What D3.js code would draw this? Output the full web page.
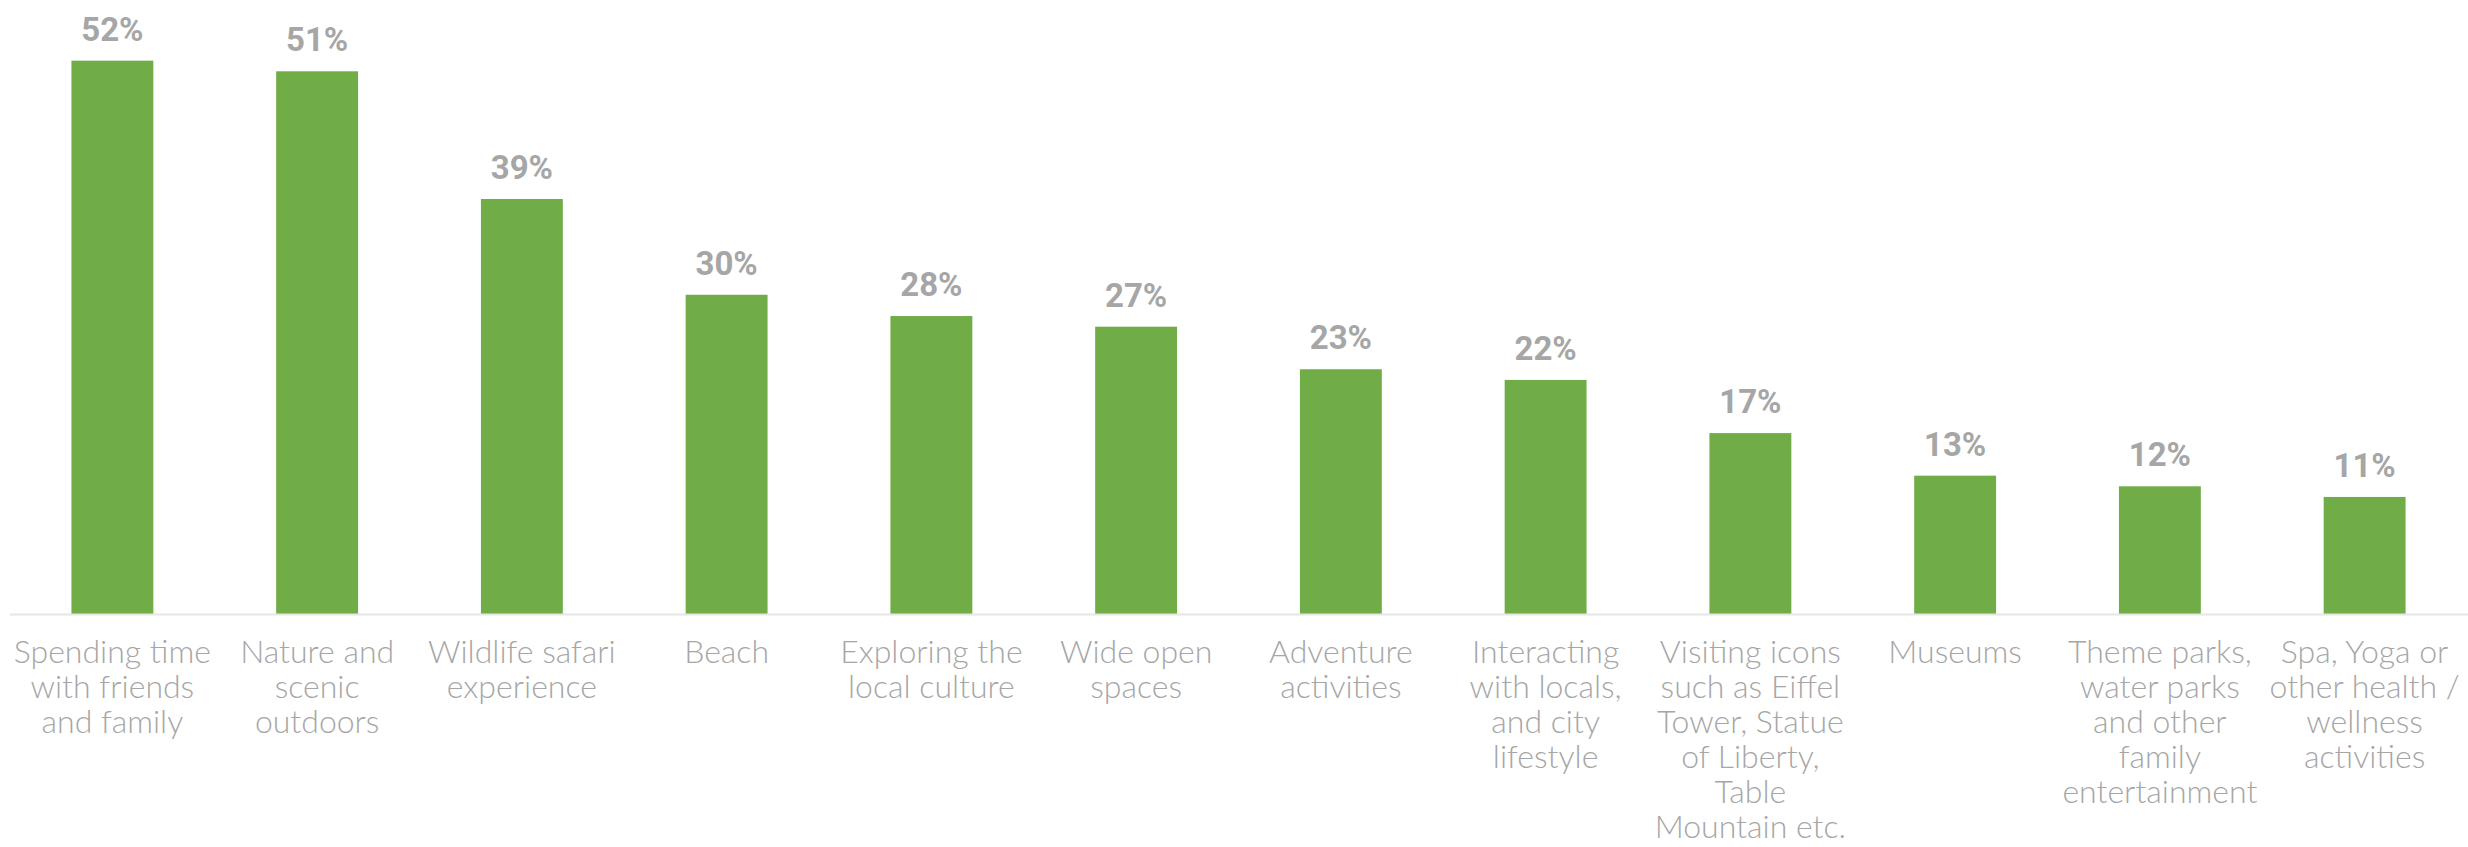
<!DOCTYPE html>
<html>
<head>
<meta charset="utf-8">
<script src="https://cdn.jsdelivr.net/npm/d3@7/dist/d3.min.js"></script>
<style>
  html, body { margin: 0; padding: 0; background: #ffffff; }
  svg { display: block; }
</style>
</head>
<body>
<svg id="chart" width="2468" height="847"></svg>
<script>
// Activities, share of respondents (%)
const categories = [
  "Spending time with friends and family",
  "Nature and scenic outdoors",
  "Wildlife safari experience",
  "Beach",
  "Exploring the local culture",
  "Wide open spaces",
  "Adventure activities",
  "Interacting with locals, and city lifestyle",
  "Visiting icons such as Eiffel Tower, Statue of Liberty, Table Mountain etc.",
  "Museums",
  "Theme parks, water parks and other family entertainment",
  "Spa, Yoga or other health / wellness activities"
];
const values = [52, 51, 39, 30, 28, 27, 23, 22, 17, 13, 12, 11];
const labelLines = [
  ["Spending time", "with friends", "and family"],
  ["Nature and", "scenic", "outdoors"],
  ["Wildlife safari", "experience"],
  ["Beach"],
  ["Exploring the", "local culture"],
  ["Wide open", "spaces"],
  ["Adventure", "activities"],
  ["Interacting", "with locals,", "and city", "lifestyle"],
  ["Visiting icons", "such as Eiffel", "Tower, Statue", "of Liberty,", "Table", "Mountain etc."],
  ["Museums"],
  ["Theme parks,", "water parks", "and other", "family", "entertainment"],
  ["Spa, Yoga or", "other health /", "wellness", "activities"]
];

const svg = d3.select("#chart");
const baseline = 614;

const x = d3.scaleBand()
  .domain(categories)
  .range([10, 2467])
  .paddingInner(0.6)
  .paddingOuter(0.3);

const y = d3.scaleLinear()
  .domain([0, 57.7])
  .range([baseline, 0]);

const data = categories.map((c, i) => ({ cat: c, value: values[i], lines: labelLines[i] }));

// bars
svg.append("g")
  .selectAll("rect")
  .data(data)
  .join("rect")
  .attr("x", d => x(d.cat))
  .attr("y", d => y(d.value))
  .attr("width", x.bandwidth())
  .attr("height", d => y(0) - y(d.value))
  .attr("fill", "#70AD47");

// category axis line
svg.append("line")
  .attr("x1", 10).attr("x2", 2468)
  .attr("y1", baseline + 0.5).attr("y2", baseline + 0.5)
  .attr("stroke", "#E6E6E6")
  .attr("stroke-width", 2);

// value labels
svg.append("g")
  .selectAll("text")
  .data(data)
  .join("text")
  .attr("x", d => x(d.cat) + x.bandwidth() / 2)
  .attr("y", d => y(d.value) - 20)
  .attr("text-anchor", "middle")
  .attr("font-family", "Roboto, 'Liberation Sans', sans-serif")
  .attr("font-weight", 700)
  .attr("font-size", 33)
  .attr("fill", "#A6A6A6")
  .text(d => d.value + "%");

// category labels
const catG = svg.append("g")
  .selectAll("text")
  .data(data)
  .join("text")
  .attr("text-anchor", "middle")
  .attr("font-family", "Lato, 'Open Sans', sans-serif")
  .attr("font-weight", 300)
  .attr("font-size", 32)
  .attr("fill", "#A6A6A6");

catG.selectAll("tspan")
  .data(d => d.lines.map(l => ({ l, cx: x(d.cat) + x.bandwidth() / 2 })))
  .join("tspan")
  .attr("x", t => t.cx)
  .attr("y", (t, i) => 663 + i * 35)
  .text(t => t.l);
</script>
</body>
</html>
